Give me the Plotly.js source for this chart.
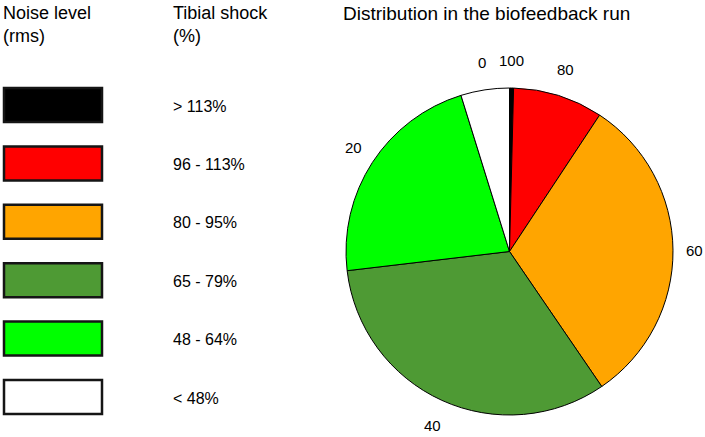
<!DOCTYPE html>
<html>
<head>
<meta charset="utf-8">
<script src="https://cdn.plot.ly/plotly-3.0.1.min.js"></script>
<style>html,body{margin:0;padding:0;background:#fff;}#chart{width:705px;height:437px;}</style>
</head>
<body>
<div id="chart"></div>
<script>
// Data
const noiseLevels = ['100', '80', '60', '40', '20', '0'];
const shockRanges = ['> 113%', '96 - 113%', '80 - 95%', '65 - 79%', '48 - 64%', '< 48%'];
const sharePct = [0.4, 8.9, 31.2, 32.7, 22.1, 4.8];
const colors = ['#000000', '#ff0000', '#ffa500', '#4e9a34', '#00ff00', '#ffffff'];

const W = 705, H = 437;
const px = x => x / W;
const py = y => 1 - y / H;

// Pie geometry (pixels)
const cx = 509.5, cy = 251.5, R = 163.5, labelRx = 185.5, labelRy = 191;

const trace = {
  type: 'pie',
  values: sharePct,
  labels: noiseLevels,
  textinfo: 'none',
  marker: {colors: colors, line: {color: '#000', width: 1}},
  sort: false,
  direction: 'clockwise',
  rotation: 0,
  showlegend: false,
  hoverinfo: 'none',
  domain: {x: [px(cx - R), px(cx + R)], y: [py(cy + R), py(cy - R)]}
};

const shapes = [];
const annotations = [];

// Slice labels placed outside at each slice's mid-angle (derived from the data)
const total = sharePct.reduce((a, b) => a + b, 0);
let cum = 0;
sharePct.forEach((v, i) => {
  const mid = (cum + v / 2) / total * 2 * Math.PI;
  cum += v;
  annotations.push({
    xref: 'paper', yref: 'paper',
    x: px(cx + labelRx * Math.sin(mid)), y: py(cy - labelRy * Math.cos(mid)),
    xanchor: 'center', yanchor: 'middle', showarrow: false, text: noiseLevels[i],
    font: {family: 'Liberation Sans, Arial, sans-serif', size: 15, color: '#000'}
  });
});

const rectTop0 = 88, pitch = 58.4, rectH = 34;
shockRanges.forEach((lab, i) => {
  const top = rectTop0 + i * pitch;
  shapes.push({
    type: 'rect', xref: 'paper', yref: 'paper',
    x0: px(4), x1: px(102), y0: py(top + rectH), y1: py(top),
    fillcolor: colors[i], line: {color: '#151515', width: 2.5}
  });
  annotations.push({
    xref: 'paper', yref: 'paper', x: px(170.5), y: py(top + rectH / 2 + 1),
    xanchor: 'left', yanchor: 'middle', showarrow: false, text: lab,
    font: {family: 'Liberation Sans, Arial, sans-serif', size: 16, color: '#000'}
  });
});

const hdrFont = {family: 'Liberation Sans, Arial, sans-serif', size: 18, color: '#000'};
annotations.push({xref: 'paper', yref: 'paper', x: px(1), y: py(1), xanchor: 'left', yanchor: 'top',
  align: 'left', showarrow: false, text: 'Noise level<br>(rms)', font: hdrFont});
annotations.push({xref: 'paper', yref: 'paper', x: px(171), y: py(1), xanchor: 'left', yanchor: 'top',
  align: 'left', showarrow: false, text: 'Tibial shock<br>(%)', font: hdrFont});
annotations.push({xref: 'paper', yref: 'paper', x: px(341), y: py(1), xanchor: 'left', yanchor: 'top',
  align: 'left', showarrow: false, text: 'Distribution in the biofeedback run',
  font: {family: 'Liberation Sans, Arial, sans-serif', size: 19, color: '#000'}});

const layout = {
  width: W, height: H,
  margin: {l: 0, r: 0, t: 0, b: 0},
  paper_bgcolor: '#fff', plot_bgcolor: '#fff',
  shapes: shapes,
  annotations: annotations
};

Plotly.newPlot('chart', [trace], layout, {displayModeBar: false, staticPlot: true});
</script>
</body>
</html>
